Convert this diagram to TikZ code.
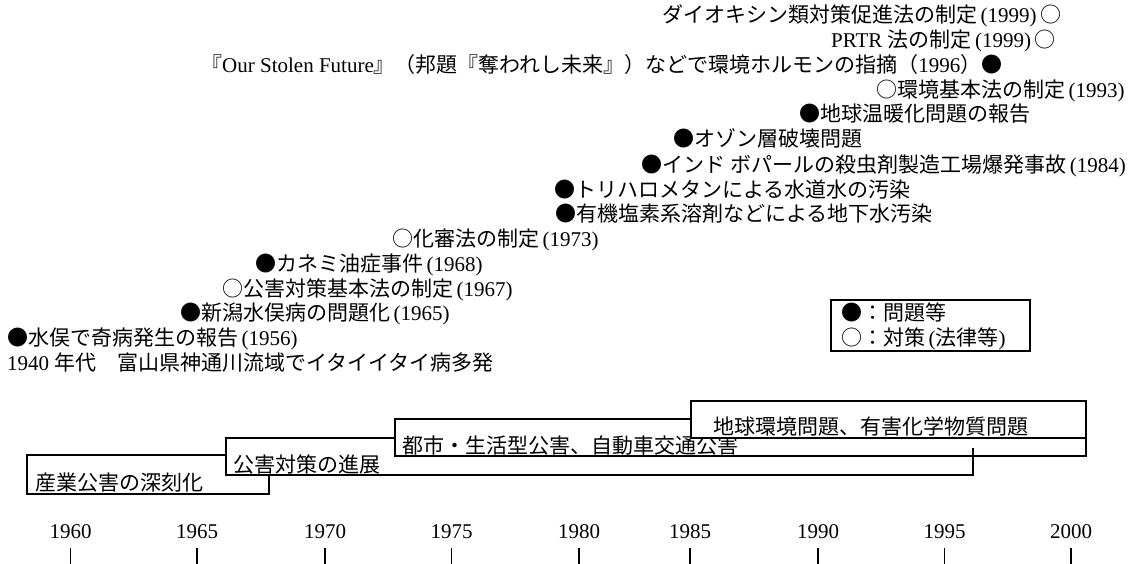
\documentclass[tikz,border=0pt]{standalone}
\usepackage{fontspec}
\setmainfont{Liberation Serif}
\newfontfamily\jp{Noto Sans CJK JP}
\newcommand\lpar{\makebox[0.5em][r]{(}}
\newcommand\rpar{\makebox[0.5em][l]{)}}
\begin{document}
\begin{tikzpicture}[x=1pt,y=-1pt,
  txt/.style={inner sep=0pt, anchor=west, text height=16pt, text depth=4pt, font=\fontsize{21}{25}\selectfont},
  era/.style={draw, line width=1.8pt, fill=white},
  tick/.style={line width=1.3pt},
  yr/.style={inner sep=0pt, font=\fontsize{21}{25}\selectfont}]
\useasboundingbox (0,0) rectangle (1142,564);
% events
\node[txt] (e1) at (662,17) {{\jp ダイオキシン類対策促進法の制定}\lpar1999\rpar{\jp ○}};
\node[txt] (e2) at (831,42) {PRTR {\jp 法の制定}\lpar1999\rpar{\jp ○}};
\node[txt] (e3) at (201,67) {{\jp 『}Our Stolen Future{\jp 』（邦題『奪われし未来』）などで環境ホルモンの指摘（}1996{\jp ）●}};
\node[txt] (e4) at (876,92) {{\jp ○環境基本法の制定}\lpar1993\rpar};
\node[txt] (e5) at (799,116) {{\jp ●地球温暖化問題の報告}};
\node[txt] (e6) at (673,141) {{\jp ●オゾン層破壊問題}};
\node[txt] (e7) at (641,166) {{\jp ●インド} {\jp ボパールの殺虫剤製造工場爆発事故}\lpar1984\rpar};
\node[txt] (e8) at (554,191) {{\jp ●トリハロメタンによる水道水の汚染}};
\node[txt] (e9) at (555,215) {{\jp ●有機塩素系溶剤などによる地下水汚染}};
\node[txt] (e10) at (392,240) {{\jp ○化審法の制定}\lpar1973\rpar};
\node[txt] (e11) at (255,265) {{\jp ●カネミ油症事件}\lpar1968\rpar};
\node[txt] (e12) at (222,290) {{\jp ○公害対策基本法の制定}\lpar1967\rpar};
\node[txt] (e13) at (180,314) {{\jp ●新潟水俣病の問題化}\lpar1965\rpar};
\node[txt] (e14) at (7,339) {{\jp ●水俣で奇病発生の報告}\lpar1956\rpar};
\node[txt] (e15) at (7,364) {1940 {\jp 年代　富山県神通川流域でイタイイタイ病多発}};
% legend
\draw[line width=1.8pt] (831,300) rectangle (1030,351);
\node[txt] (l1) at (841,314) {{\jp ●：問題等}};
\node[txt] (l2) at (841,339) {{\jp ○：対策}\lpar{\jp 法律等}\rpar};
% era boxes
\draw[era] (27,455) rectangle (269,494);
\node[txt] (b1) at (35,484) {{\jp 産業公害の深刻化}};
\draw[era] (226,438) rectangle (973,475);
\node[txt] (b2) at (233,466) {{\jp 公害対策の進展}};
\draw[era] (395,419) rectangle (1086,456);
\node[txt] (b3) at (402,447) {{\jp 都市・生活型公害、自動車交通公害}};
\draw[line width=1.8pt] (973,448) -- (973,456);
\draw[era] (691,401) rectangle (1086,438);
\node[txt] (b4) at (713,428) {{\jp 地球環境問題、有害化学物質問題}};
% axis
\foreach \yv/\xv in {1960/70.6,1965/197,1970/325,1975/451.6,1980/579,1985/690,1990/818,1995/944.6,2000/1071}{
  \node[yr] (y\yv) at (\xv,532) {\yv};
  \coordinate (t\yv) at (\xv,564);
  \draw[tick] (\xv,548) -- (t\yv);
}
\end{tikzpicture}
\end{document}
